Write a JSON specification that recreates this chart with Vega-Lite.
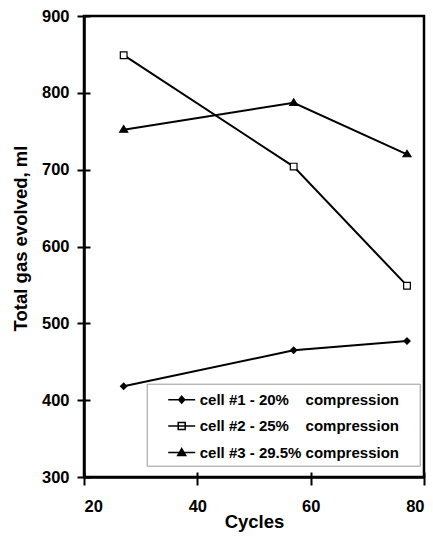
{
  "$schema": "https://vega.github.io/schema/vega-lite/v6.json",
  "autosize": {"type": "none"},
  "width": 340,
  "height": 461,
  "padding": {"left": 84, "top": 16, "right": 9, "bottom": 64},
  "background": "white",
  "config": {
    "view": {"stroke": "black", "strokeWidth": 2.5},
    "axis": {
      "grid": false,
      "domainColor": "black",
      "domainWidth": 2.5,
      "tickColor": "black",
      "tickWidth": 2,
      "labelFont": "Liberation Sans",
      "labelFontWeight": "bold",
      "labelFontSize": 16.5,
      "labelColor": "black",
      "titleFont": "Liberation Sans",
      "titleFontWeight": "bold",
      "titleFontSize": 18.5,
      "titleColor": "black"
    }
  },
  "data": {
    "values": [
      {"cycles": 27, "gas": 418, "cell": "cell #1 - 20% compression"},
      {"cycles": 57, "gas": 465, "cell": "cell #1 - 20% compression"},
      {"cycles": 77, "gas": 477, "cell": "cell #1 - 20% compression"},
      {"cycles": 27, "gas": 849, "cell": "cell #2 - 25% compression"},
      {"cycles": 57, "gas": 704, "cell": "cell #2 - 25% compression"},
      {"cycles": 77, "gas": 549, "cell": "cell #2 - 25% compression"},
      {"cycles": 27, "gas": 752, "cell": "cell #3 - 29.5% compression"},
      {"cycles": 57, "gas": 787, "cell": "cell #3 - 29.5% compression"},
      {"cycles": 77, "gas": 720, "cell": "cell #3 - 29.5% compression"}
    ]
  },
  "encoding": {
    "x": {
      "field": "cycles", "type": "quantitative",
      "scale": {"domain": [20, 80], "nice": false, "zero": false},
      "axis": {
        "orient": "bottom", "title": "Cycles", "values": [20, 40, 60, 80],
        "tickSize": 8, "labelPadding": 13,
        "titleBaseline": "alphabetic", "titleY": 50,
        "encoding": {"ticks": {"y": {"value": -5}}}
      }
    },
    "y": {
      "field": "gas", "type": "quantitative",
      "scale": {"domain": [300, 900], "nice": false, "zero": false},
      "axis": {
        "orient": "left", "title": "Total gas evolved, ml",
        "values": [300, 400, 500, 600, 700, 800, 900],
        "tickSize": 7, "labelPadding": 8,
        "titleAngle": 270, "titleBaseline": "alphabetic", "titleAlign": "center",
        "titleX": -57.5, "titleY": 222,
        "encoding": {"ticks": {"x": {"value": 6}}}
      }
    }
  },
  "resolve": {"scale": {"shape": "independent", "fill": "independent"}},
  "layer": [
    {
      "mark": {"type": "line", "color": "black", "strokeWidth": 2},
      "encoding": {"detail": {"field": "cell"}}
    },
    {
      "mark": {"type": "point", "filled": true, "stroke": "black", "strokeWidth": 1.2, "size": 80, "opacity": 1},
      "encoding": {
        "shape": {
          "field": "cell", "type": "nominal",
          "scale": {
            "domain": ["cell #1 - 20% compression", "cell #2 - 25% compression", "cell #3 - 29.5% compression"],
            "range": ["M0,-0.7L0.7,0L0,0.7L-0.7,0Z", "M-0.75,-0.75H0.75V0.75H-0.75Z", "M0,-0.9L0.9,0.55L-0.9,0.55Z"]
          },
          "legend": null
        },
        "fill": {
          "field": "cell", "type": "nominal",
          "scale": {
            "domain": ["cell #1 - 20% compression", "cell #2 - 25% compression", "cell #3 - 29.5% compression"],
            "range": ["black", "white", "black"]
          },
          "legend": null
        }
      }
    },
    {
      "transform": [{"filter": "datum.gas < 0"}],
      "mark": {"type": "point", "filled": true, "stroke": "black", "strokeWidth": 1.5, "opacity": 1},
      "encoding": {
        "shape": {
          "field": "cell", "type": "nominal",
          "scale": {
            "domain": ["cell #1 - 20% compression", "cell #2 - 25% compression", "cell #3 - 29.5% compression"],
            "range": [
              "M-1.35,0H1.35M0,-0.35L0.3,0L0,0.35L-0.3,0Z",
              "M-1.35,0H1.35M-0.35,-0.35H0.35V0.35H-0.35Z",
              "M-1.35,0H1.35M0,-0.4L0.4,0.3L-0.4,0.3Z"
            ]
          },
          "legend": {
            "title": ".",
            "titleOrient": "right",
            "titleOpacity": 0,
            "titleFontSize": 15,
            "titlePadding": 11,
            "orient": "none",
            "legendX": 62.7,
            "legendY": 367.7,
            "padding": 5,
            "rowPadding": 7.4,
            "strokeColor": "#999",
            "fillColor": "white",
            "symbolSize": 400,
            "symbolOffset": 19,
            "symbolStrokeColor": "black",
            "symbolStrokeWidth": 1.5,
            "labelOffset": 7,
            "labelFont": "Liberation Sans",
            "labelFontWeight": "bold",
            "labelFontSize": 15,
            "labelColor": "black",
            "labelLimit": 400,
            "labelExpr": "datum.value === 'cell #3 - 29.5% compression' ? datum.label : replace(datum.label, '% ', '%\u00a0\u00a0\u00a0\u00a0')",
            "encoding": {
              "symbols": {
                "stroke": {"value": "black"},
                "strokeWidth": {"value": 1.5},
                "opacity": {"value": 1}
              }
            }
          }
        },
        "fill": {
          "field": "cell", "type": "nominal",
          "scale": {
            "domain": ["cell #1 - 20% compression", "cell #2 - 25% compression", "cell #3 - 29.5% compression"],
            "range": ["black", "white", "black"]
          },
          "legend": null
        }
      }
    }
  ]
}
